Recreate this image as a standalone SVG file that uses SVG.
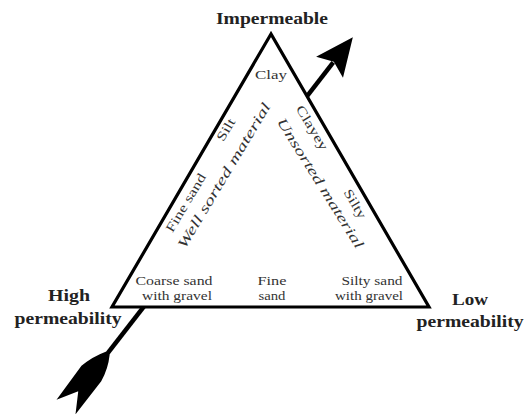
<svg xmlns="http://www.w3.org/2000/svg" width="528" height="414" viewBox="0 0 528 414">
<style>
.lbl{font-family:"Liberation Serif","Times New Roman",serif;font-weight:bold;font-size:16px;fill:#222;text-anchor:middle}
.t{font-family:"Liberation Serif","Times New Roman",serif;font-size:13px;fill:#333;text-anchor:middle}
.it{font-family:"Liberation Serif","Times New Roman",serif;font-style:italic;font-size:14px;fill:#333;text-anchor:middle}
</style>
<rect width="528" height="414" fill="#fff"/>
<g id="connectors">
  <g id="arrow" transform="translate(66,407) rotate(-52.2)">
    <line x1="20" y1="0" x2="436" y2="0" stroke="#000" stroke-width="4.5"/>
    <path d="M0,-12 L42,-13 Q56,-10 68,-2.5 L68,2.5 Q56,10 42,12 L0,12 L20,0 Z" fill="#000"/>
    <path d="M468,0 L430,-17 L437,0 L430,17 Z" fill="#000"/>
  </g>
</g>
<g id="triangle">
  <polygon points="271,34 112,307 429,307" fill="#fff" stroke="#000" stroke-width="3.2" stroke-linejoin="miter"/>
</g>
<g id="labels">
  <text class="lbl" x="272" y="24" textLength="112" lengthAdjust="spacingAndGlyphs">Impermeable</text>
  <text class="lbl" x="69" y="301" textLength="42" lengthAdjust="spacingAndGlyphs">High</text>
  <text class="lbl" x="68" y="324" textLength="107" lengthAdjust="spacingAndGlyphs">permeability</text>
  <text class="lbl" x="470" y="305" textLength="36" lengthAdjust="spacingAndGlyphs">Low</text>
  <text class="lbl" x="470" y="327" textLength="107" lengthAdjust="spacingAndGlyphs">permeability</text>
</g>
<g id="inner-text">
  <text class="t" x="271" y="79" textLength="32" lengthAdjust="spacingAndGlyphs">Clay</text>
  <text class="t" transform="translate(229.5,132) rotate(-59)" textLength="24" lengthAdjust="spacingAndGlyphs">Silt</text>
  <text class="t" transform="translate(189.5,205) rotate(-59)" textLength="66" lengthAdjust="spacingAndGlyphs">Fine sand</text>
  <text class="it" transform="translate(228,178) rotate(-59)" textLength="167" lengthAdjust="spacingAndGlyphs">Well sorted material</text>
  <text class="t" transform="translate(308.4,130) rotate(59)" textLength="50" lengthAdjust="spacingAndGlyphs">Clayey</text>
  <text class="t" transform="translate(351.4,206) rotate(59)" textLength="32" lengthAdjust="spacingAndGlyphs">Silty</text>
  <text class="it" transform="translate(316.5,185.5) rotate(58)" textLength="151" lengthAdjust="spacingAndGlyphs">Unsorted material</text>
  <text class="t" x="174" y="285" textLength="77" lengthAdjust="spacingAndGlyphs">Coarse sand</text>
  <text class="t" x="177" y="300" textLength="70" lengthAdjust="spacingAndGlyphs">with gravel</text>
  <text class="t" x="272" y="285" textLength="29" lengthAdjust="spacingAndGlyphs">Fine</text>
  <text class="t" x="272" y="300" textLength="27" lengthAdjust="spacingAndGlyphs">sand</text>
  <text class="t" x="372" y="285" textLength="61" lengthAdjust="spacingAndGlyphs">Silty sand</text>
  <text class="t" x="369" y="300" textLength="68" lengthAdjust="spacingAndGlyphs">with gravel</text>
</g>
</svg>
